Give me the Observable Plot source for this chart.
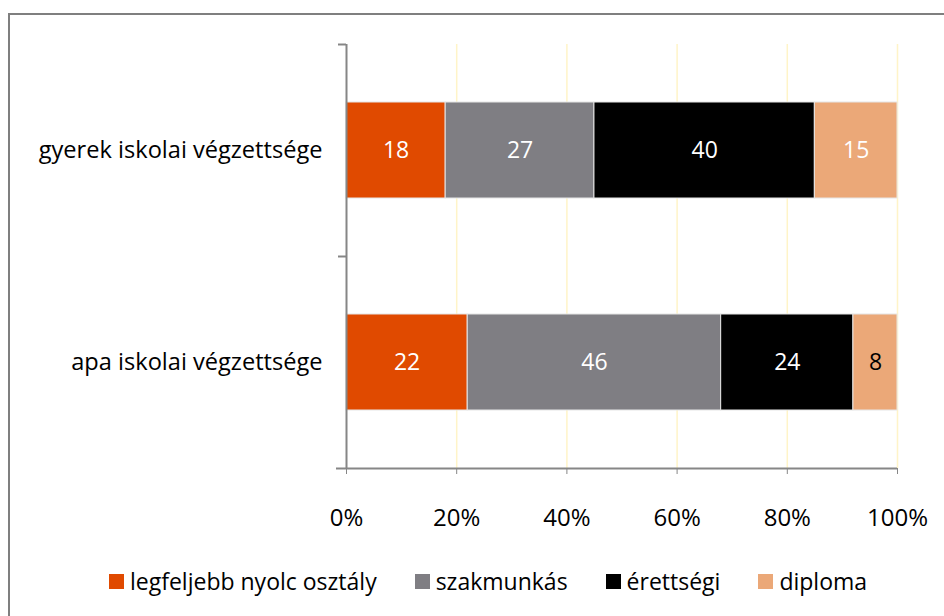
<!DOCTYPE html>
<html>
<head>
<meta charset="utf-8">
<script src="https://cdn.jsdelivr.net/npm/d3@7"></script>
<script src="https://cdn.jsdelivr.net/npm/@observablehq/plot@0.6"></script>
<style>
  html, body { margin: 0; padding: 0; background: #fff; overflow: hidden; width: 944px; height: 616px; }
  #wrap { position: relative; width: 944px; height: 616px; font-family: "Open Sans", sans-serif; }
  #border { position: absolute; left: 8px; top: 13px; width: 1000px; height: 1000px; border: 2px solid #7f7f7f; box-sizing: border-box; }
  #chart { position: absolute; left: 0; top: 0; }
  #legend { position: absolute; left: 109px; top: 566px; height: 30px; display: flex; align-items: center; font-size: 23px; color: #000; white-space: nowrap; }
  .item { display: flex; align-items: center; height: 30px; margin-right: 38px; }
  .sw { width: 15px; height: 15px; margin-right: 6px; }
</style>
</head>
<body>
<div id="wrap">
  <div id="border"></div>
  <div id="chart"></div>
  <div id="legend"></div>
</div>
<script>
const rows = ["gyerek iskolai végzettsége", "apa iskolai végzettsége"];
const series = ["legfeljebb nyolc osztály", "szakmunkás", "érettségi", "diploma"];
const colors = ["#e04a00", "#7f7e83", "#000000", "#eba878"];
const gyerekValues = [18, 27, 40, 15];
const apaValues = [22, 46, 24, 8];
const xTicks = [0, 20, 40, 60, 80, 100];

const valuesByRow = [gyerekValues, apaValues];
const data = [];
rows.forEach((r, i) => series.forEach((s, j) => data.push({row: r, series: s, value: valuesByRow[i][j]})));

const W = 944, H = 616;
const step = (468 - 44) / rows.length;

const chart = Plot.plot({
  width: W,
  height: H,
  marginLeft: 346,
  marginRight: 47,
  marginTop: 44,
  marginBottom: 148,
  style: {fontFamily: "'Open Sans', sans-serif", fontSize: "24px", color: "#000", background: "transparent"},
  x: {domain: [0, 100], ticks: xTicks, tickFormat: d => d + "%"},
  y: {domain: rows, paddingInner: 0.547, paddingOuter: 0.2735},
  color: {domain: series, range: colors},
  marks: [
    Plot.ruleX(xTicks.filter(d => d > 0), {stroke: "#fff4c8", strokeWidth: 1.5}),
    Plot.barX(data, Plot.stackX({
      y: "row", x: "value", fill: "series", order: series,
      stroke: "#e6e6e6", strokeWidth: 1
    })),
    Plot.text(data, Plot.stackX({
      y: "row", x: "value", order: series, text: "value",
      fill: d => d.value < 10 ? "black" : "white",
      fontSize: 23
    })),
    Plot.ruleX([0], {stroke: "#868686", strokeWidth: 2}),
    Plot.ruleY(rows, {y: d => d, dy: -step / 2, x1: 0, x2: 0, insetLeft: -8, stroke: "#868686", strokeWidth: 2}),
    Plot.ruleY(rows.slice(-1), {y: d => d, dy: step / 2, x1: 0, x2: 100, insetLeft: -10, stroke: "#868686", strokeWidth: 2}),
    Plot.axisX({ticks: xTicks, tickFormat: d => d + "%", tickSize: 6, tickPadding: 34, stroke: "#868686", fontSize: 24, label: null}),
    Plot.axisY({tickSize: 0, tickPadding: 24, fontSize: 23.6, label: null})
  ]
});
document.getElementById("chart").appendChild(chart);

const legend = document.getElementById("legend");
series.forEach((s, i) => {
  const item = document.createElement("div");
  item.className = "item";
  const sw = document.createElement("span");
  sw.className = "sw";
  sw.style.background = colors[i];
  const t = document.createElement("span");
  t.textContent = s;
  item.appendChild(sw);
  item.appendChild(t);
  legend.appendChild(item);
});
</script>
</body>
</html>
